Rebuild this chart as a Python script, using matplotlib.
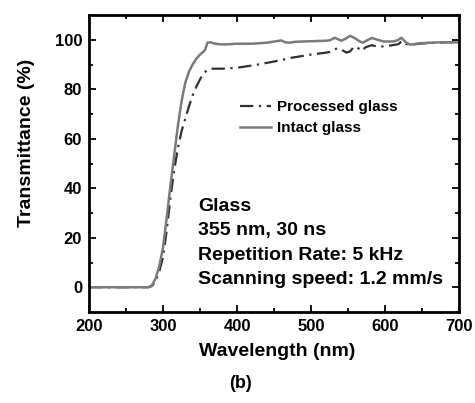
import matplotlib
matplotlib.use('Agg')
import matplotlib.pyplot as plt
from matplotlib.ticker import MultipleLocator

plt.rcParams['font.family'] = ['Liberation Sans', 'DejaVu Sans']
plt.rcParams['font.weight'] = 'bold'

# ── data ─────────────────────────────────────────────────────────────────────
intact_wl = [200, 270, 280, 285, 290, 295, 300, 305, 310, 315, 320, 325, 330,
             335, 340, 345, 350, 355, 357, 360, 364, 370, 380, 390, 400, 420,
             440, 455, 460, 465, 470, 480, 500, 520, 526, 532, 541, 547, 553,
             560, 566, 570, 576, 582, 590, 598, 611, 617, 622, 628, 634, 645,
             660, 680, 700]
intact_t = [0, 0, 0, 0.8, 3.5, 8.5, 16, 28, 41, 53, 65, 75, 82.5,
            87, 90, 92.3, 94, 95.3, 96, 98.8, 99, 98.4, 98.1, 98.2, 98.4, 98.4,
            98.8, 99.5, 99.7, 99.0, 98.8, 99.2, 99.4, 99.6, 99.8, 100.8, 99.6, 100.5, 101.6,
            100.5, 99.3, 98.8, 99.8, 100.7, 100, 99.3, 99.3, 99.8, 100.8, 99, 98, 98.5,
            98.8, 99, 98.9]

proc_wl = [200, 270, 280, 285, 290, 295, 300, 305, 310, 315, 320, 325, 330,
           335, 340, 345, 350, 355, 360, 365, 380, 400, 425, 450, 475, 500,
           523, 530, 535, 541, 548, 553, 558, 563, 568, 574, 582, 590, 598,
           610, 618, 623, 628, 635, 650, 670, 700]
proc_t = [0, 0, 0, 0.5, 2.5, 6.5, 12, 23, 36, 47, 56, 63, 68,
          73, 77.5, 81, 84, 86.5, 87.8, 88.3, 88.3, 88.7, 89.8, 91.2, 92.8, 94,
          94.9, 95.5, 96.6, 96, 94.8, 95.3, 97.2, 96.8, 95.5, 97, 97.8, 97.2, 97.3,
          97.8, 98.2, 99.5, 98.3, 98, 98.5, 98.8, 99.2]

labels = ['Processed glass', 'Intact glass']
notes = ['Glass', '355 nm, 30 ns', 'Repetition Rate: 5 kHz',
         'Scanning speed: 1.2 mm/s']

W, H = 475, 403

# ── figure ───────────────────────────────────────────────────────────────────
fig = plt.figure(figsize=(W / 100, H / 100), dpi=100)
ax = fig.add_axes([89 / W, 1 - 312 / H, 370 / W, 297 / H])

ax.plot(proc_wl, proc_t, color='#303030', lw=1.6,
        dashes=(6, 2.5, 1, 2.5), label=labels[0])
ax.plot(intact_wl, intact_t, color='#7a7a7a', lw=1.8, label=labels[1])

ax.set_xlim(200, 700)
ax.set_ylim(-10, 110)
ax.xaxis.set_major_locator(MultipleLocator(100))
ax.xaxis.set_minor_locator(MultipleLocator(50))
ax.yaxis.set_minor_locator(MultipleLocator(10))
ax.set_yticks([0, 20, 40, 60, 80, 100])
ax.tick_params(which='both', direction='in', top=True, right=True,
               labelsize=12, width=1.3)
ax.tick_params(which='major', length=5, pad=5)
ax.tick_params(which='minor', length=3)
for s in ax.spines.values():
    s.set_linewidth(2)

ax.set_xlabel('Wavelength (nm)', fontsize=14, fontweight='bold')
ax.xaxis.set_label_coords((277 - 89) / 370, (312 - 343) / 297)
ax.set_ylabel('Transmittance (%)', fontsize=14, fontweight='bold')
ax.yaxis.set_label_coords((35 - 89) / 370, (312 - 143) / 297)

ax.legend(loc='upper left', bbox_to_anchor=((240 - 89) / 370, (312 - 100) / 297),
          frameon=False, fontsize=11, handlelength=2.0, handletextpad=0.4,
          labelspacing=0.45, borderaxespad=0, borderpad=0)

for i, t in enumerate(notes):
    fig.text(198 / W, 1 - (206.5 + i * 24.5) / H, t, fontsize=14,
             fontweight='bold', va='center', ha='left')

fig.text(241 / W, 1 - 383 / H, '(b)', ha='center', va='center',
         fontsize=13, fontweight='bold')

fig.savefig('out.png', dpi=100)
